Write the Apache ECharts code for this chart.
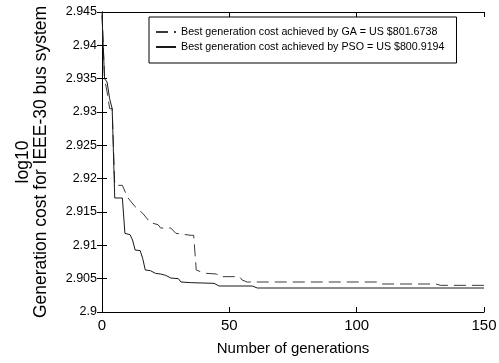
<!DOCTYPE html>
<html>
<head>
<meta charset="utf-8">
<script src="https://cdn.jsdelivr.net/npm/echarts@6/dist/echarts.min.js"></script>
<style>
  html, body { margin: 0; padding: 0; background: #fff; }
  #chart { width: 499px; height: 363px; }
</style>
</head>
<body>
<div id="chart"></div>
<script>
// GA convergence (dashed), breakpoints
const gaGen = [0, 1, 2, 3, 4, 5, 8, 10, 13, 16, 19, 22, 23, 27, 29, 35, 36, 37, 39, 41, 45, 46, 54, 55, 57, 108, 109, 131, 133, 150]
const gaCost = [2.945, 2.935, 2.933, 2.9305, 2.9305, 2.919, 2.919, 2.9172, 2.9158, 2.9148, 2.9134, 2.9131, 2.9126, 2.9126, 2.9118, 2.9115, 2.9115, 2.9063, 2.906, 2.9058, 2.9057, 2.9053, 2.9053, 2.9048, 2.9045, 2.9045, 2.9042, 2.9042, 2.904, 2.904]

// PSO convergence (solid)
const psoGen = [0, 1, 2, 3, 4, 5, 8, 9, 11, 12, 13, 15, 16, 17, 19, 21, 23, 25, 27, 30, 31, 35, 44, 46, 59, 61, 150]
const psoCost = [2.9445, 2.935, 2.9345, 2.932, 2.9305, 2.9171, 2.9171, 2.9118, 2.9116, 2.9108, 2.9093, 2.9092, 2.908, 2.9063, 2.9062, 2.9058, 2.9057, 2.9055, 2.9051, 2.905, 2.9045, 2.9044, 2.9043, 2.9039, 2.9039, 2.9036, 2.9036]

const seriesNames = [
  'Best generation cost achieved by GA = US $801.6738',
  'Best generation cost achieved by PSO = US $800.9194'
]
const xTicks = [0, 50, 100, 150]
const yMin = 2.9
const yMax = 2.945
const yStep = 0.005

const FONT = '"Liberation Sans", Arial, sans-serif'

const chart = echarts.init(document.getElementById('chart'))

const pair = (xs, ys) => xs.map((x, i) => [x, ys[i]])

// 坐标轴公共样式 (MATLAB 风格的框和内刻度)
const axisLine = { show: true, lineStyle: { color: '#000', width: 1 } }
const axisTick = { show: true, inside: true, length: 5, lineStyle: { color: '#000' } }

chart.setOption({
  animation: false,
  backgroundColor: '#fff',
  textStyle: { fontFamily: FONT },
  grid: { left: 102, right: 15, top: 12, bottom: 51, outerBoundsMode: 'none' },
  legend: {
    orient: 'vertical',
    left: 149,
    top: 17,
    padding: [9, 12, 10, 6],
    itemGap: 3,
    itemWidth: 20,
    itemHeight: 12,
    borderColor: '#000',
    borderWidth: 1,
    backgroundColor: '#fff',
    itemStyle: { opacity: 0 },
    textStyle: { fontSize: 10.7, lineHeight: 12, color: '#000', fontFamily: FONT },
    data: seriesNames
  },
  xAxis: [
    {
      type: 'value',
      min: xTicks[0],
      max: xTicks[xTicks.length - 1],
      interval: 50,
      name: 'Number of generations',
      nameLocation: 'middle',
      nameGap: 29,
      nameTextStyle: { fontSize: 15, color: '#000', fontFamily: FONT },
      axisLine,
      axisTick,
      axisLabel: { fontSize: 15, color: '#000', margin: 6, fontFamily: FONT },
      splitLine: { show: false }
    },
    {
      type: 'value',
      position: 'top',
      min: xTicks[0],
      max: xTicks[xTicks.length - 1],
      interval: 50,
      axisLine,
      axisTick,
      axisLabel: { show: false },
      splitLine: { show: false }
    }
  ],
  yAxis: [
    {
      type: 'value',
      min: yMin,
      max: yMax,
      interval: yStep,
      name: 'log10\nGeneration cost for IEEE-30 bus system',
      nameLocation: 'middle',
      nameRotate: 90,
      nameGap: 52,
      nameTextStyle: { fontSize: 17.5, color: '#000', lineHeight: 18, fontFamily: FONT },
      axisLine,
      axisTick,
      axisLabel: {
        fontSize: 12.5,
        color: '#000',
        margin: 5,
        fontFamily: FONT,
        formatter: v => String(parseFloat(v.toFixed(3)))
      },
      splitLine: { show: false }
    },
    {
      type: 'value',
      position: 'right',
      min: yMin,
      max: yMax,
      interval: yStep,
      axisLine,
      axisTick,
      axisLabel: { show: false },
      splitLine: { show: false }
    }
  ],
  series: [
    {
      name: seriesNames[0],
      type: 'line',
      symbol: 'none',
      lineStyle: { color: '#3a3a3a', width: 1, type: [12, 6] },
      itemStyle: { color: '#3a3a3a' },
      data: pair(gaGen, gaCost)
    },
    {
      name: seriesNames[1],
      type: 'line',
      symbol: 'none',
      lineStyle: { color: '#1a1a1a', width: 1 },
      itemStyle: { color: '#1a1a1a' },
      data: pair(psoGen, psoCost)
    }
  ]
})
</script>
</body>
</html>
